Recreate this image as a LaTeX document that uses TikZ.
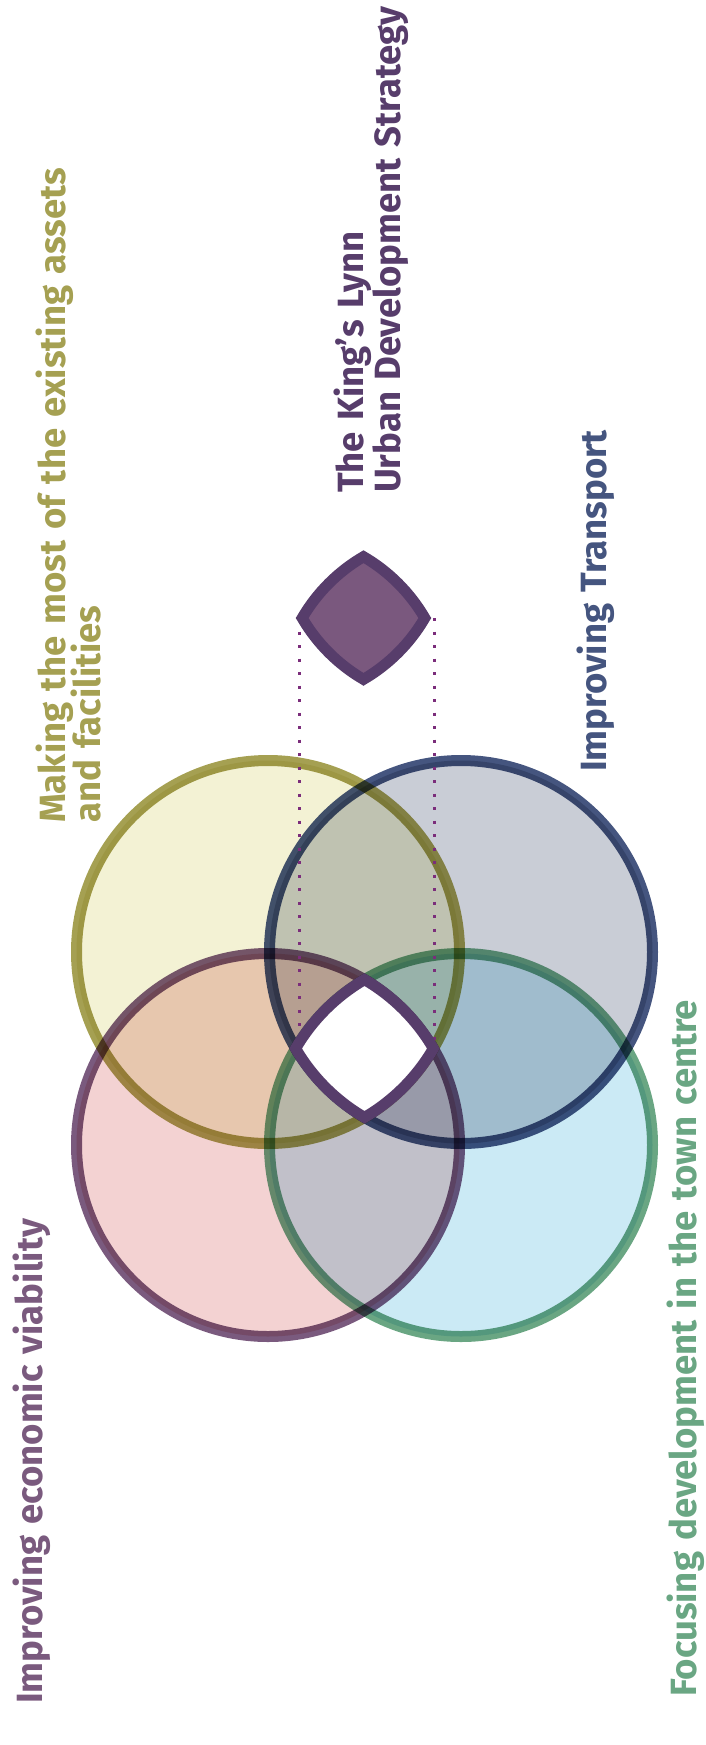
\documentclass[tikz,border=0pt]{standalone}
\usepackage{fontspec}
\newfontfamily\vennfont[WordSpace=1.3]{Fira Sans}
\definecolor{olivering}{RGB}{165,160,82}
\definecolor{olivefill}{RGB}{243,242,212}
\definecolor{navyring}{RGB}{69,85,127}
\definecolor{navyfill}{RGB}{201,205,214}
\definecolor{plumring}{RGB}{122,90,126}
\definecolor{plumfill}{RGB}{243,210,210}
\definecolor{greenring}{RGB}{106,166,131}
\definecolor{greenfill}{RGB}{203,234,245}
\definecolor{coreline}{RGB}{87,61,107}
\definecolor{badgefill}{RGB}{122,88,126}
\definecolor{dotpurple}{RGB}{123,45,123}
\tikzset{
  ring/.style     = {line width=11pt},
  vtext/.style    = {rotate=90, anchor=base west, inner sep=0pt,
                     font=\vennfont\bfseries\fontsize{36.5}{42}\selectfont},
  coreedge/.style = {draw=coreline, line width=11pt, line join=miter},
  dotlink/.style  = {draw=dotpurple, line width=3pt, dash pattern=on 3pt off 10.5pt},
}
\newcommand\lenspath{
  ++(-68.91,0)
  arc[start angle=210.26, end angle=239.74, radius=191.5]
  arc[start angle=-59.74, end angle=-30.26, radius=191.5]
  arc[start angle=30.26,  end angle=59.74,  radius=191.5]
  arc[start angle=120.26, end angle=149.74, radius=191.5] -- cycle}
\begin{document}
\begin{tikzpicture}[x=1pt,y=-1pt]
  \useasboundingbox (0,0) rectangle (706,1745);
  \coordinate (assets) at (268,952);
  \coordinate (transport) at (461,952);
  \coordinate (economy) at (268,1145);
  \coordinate (centre) at (461,1145);
  \coordinate (core) at (364.5,1048.5);
  \coordinate (badge) at (363.5,618);

  % the four circles
  \begin{scope}[blend mode=multiply]
    \fill[olivefill] (assets) circle[radius=191.5];
    \fill[navyfill] (transport) circle[radius=191.5];
    \fill[plumfill] (economy) circle[radius=191.5];
    \fill[greenfill] (centre) circle[radius=191.5];
    \draw[ring, olivering] (assets) circle[radius=191.5];
    \draw[ring, navyring] (transport) circle[radius=191.5];
    \draw[ring, plumring] (economy) circle[radius=191.5];
    \draw[ring, greenring] (centre) circle[radius=191.5];
  \end{scope}

  \coordinate (badgeW) at (299,618);
  \coordinate (badgeE) at (434,618);
  \coordinate (coreW) at (299,1048.5);
  \coordinate (coreE) at (434,1048.5);
  \draw[dotlink] (badgeW) -- (coreW);
  \draw[dotlink] (badgeE) -- (coreE);

  \path[coreedge, fill=white] (core) \lenspath;
  \begin{scope}[shift={(badge)}, scale=0.89]
    \path[coreedge, fill=badgefill] (0,0) \lenspath;
  \end{scope}

  \node[vtext, coreline] (title1) at (363,493) {The King’s Lynn};
  \node[vtext, coreline] (title2) at (400,493) {Urban Development Strategy};
  \node[vtext, olivering] (assets1) at (65,823) {Making the most of the existing assets};
  \node[vtext, olivering] (assets2) at (100,823) {and facilities};
  \node[vtext, navyring] (transportlbl) at (606,772) {Improving Transport};
  \node[vtext, plumring] (economylbl) at (42,1704) {Improving economic viability};
  \node[vtext, greenring] (centrelbl) at (696,1697) {Focusing development in the town centre};
\end{tikzpicture}
\end{document}
